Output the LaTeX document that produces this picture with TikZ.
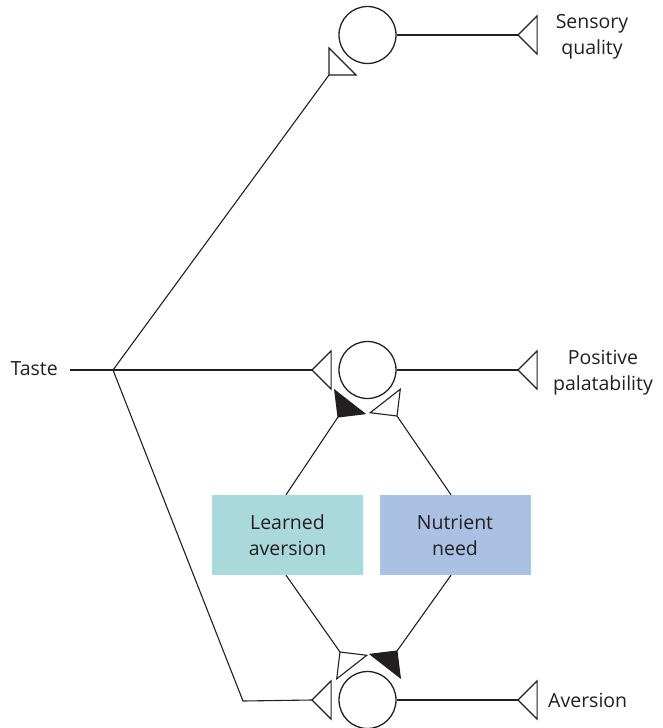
\documentclass[tikz,border=0pt]{standalone}
\usepackage{fontspec}
\setmainfont{Open Sans}
\usetikzlibrary{calc}
\definecolor{ink}{HTML}{231F20}
\definecolor{learnfill}{HTML}{A9D9DB}
\definecolor{needfill}{HTML}{AAC1E3}
\tikzset{
  wire/.style={line width=1.1pt, draw=ink},
  cell/.style={circle, draw=ink, line width=1.3pt, minimum size=57pt, inner sep=0pt},
  label/.style={text=ink, font=\fontsize{19.5}{26}\selectfont, align=center, inner sep=0pt},
  factor/.style={label, minimum width=151pt, minimum height=80pt},
  synopen/.style={draw=ink, line width=1.1pt, fill=white, line join=miter},
  synfilled/.style={draw=ink, line width=1.1pt, fill=ink, line join=miter},
}
% terminal: apex at #1, opening towards angle #2, style #3
\newcommand{\terminal}[3]{%
  \path[#3] (#1) -- ++(#2+45:27pt) -- ($(#1)+(#2-45:27pt)$) -- cycle;}
\begin{document}
\begin{tikzpicture}[x=1pt, y=-1pt]
\useasboundingbox (0,0) rectangle (662,728);

% cells
\node[cell] (ctop) at (367.5,35) {};
\node[cell] (cmid) at (367.5,370) {};
\node[cell] (cbot) at (367.5,700) {};

% factors
\node[factor, fill=learnfill] (learn) at (287.5,535) {Learned\\aversion};
\node[factor, fill=needfill] (need) at (455,535) {Nutrient\\need};

% labels
\node[label, anchor=east] (taste) at (58,369) {Taste};
\node[label] (sensory) at (592,37) {Sensory\\quality};
\node[label] (positive) at (603,373) {Positive\\palatability};
\node[label, anchor=west] (aversion) at (548,700) {Aversion};

% junctions and terminal apexes
\coordinate (hub) at (113,370);
\coordinate (bend) at (243,701);
\coordinate (aTop) at (329,75);
\coordinate (aMid) at (312,370);
\coordinate (aBot) at (312,700);
\coordinate (aSens) at (518,35);
\coordinate (aPos) at (518,370);
\coordinate (aAv) at (518,700);
\coordinate (aLearnUp) at (338,417);
\coordinate (aNeedUp) at (397,416);
\coordinate (aLearnDn) at (340,652);
\coordinate (aNeedDn) at (397,651);

% connectors
\draw[wire, shorten <=12pt] (taste.east |- hub) -- (hub);
\draw[wire] (hub) -- (aTop);
\draw[wire] (hub) -- (aMid);
\draw[wire] (hub) -- (bend) -- (aBot);
\draw[wire] (ctop.east) -- (aSens);
\draw[wire] (cmid.east) -- (aPos);
\draw[wire] (cbot.east) -- (aAv);
\draw[wire] ([xshift=-1.5pt]learn.north) -- (aLearnUp);
\draw[wire] ([xshift=-4pt]need.north) -- (aNeedUp);
\draw[wire] ([xshift=-1.5pt]learn.south) -- (aLearnDn);
\draw[wire] ([xshift=-4pt]need.south) -- (aNeedDn);

% terminals
\terminal{aTop}{45}{synopen}
\terminal{aMid}{0}{synopen}
\terminal{aBot}{0}{synopen}
\terminal{aSens}{0}{synopen}
\terminal{aPos}{0}{synopen}
\terminal{aAv}{0}{synopen}
\terminal{aLearnUp}{52}{synfilled}
\terminal{aNeedUp}{128}{synopen}
\terminal{aLearnDn}{-52}{synopen}
\terminal{aNeedDn}{-128}{synfilled}
\end{tikzpicture}
\end{document}
